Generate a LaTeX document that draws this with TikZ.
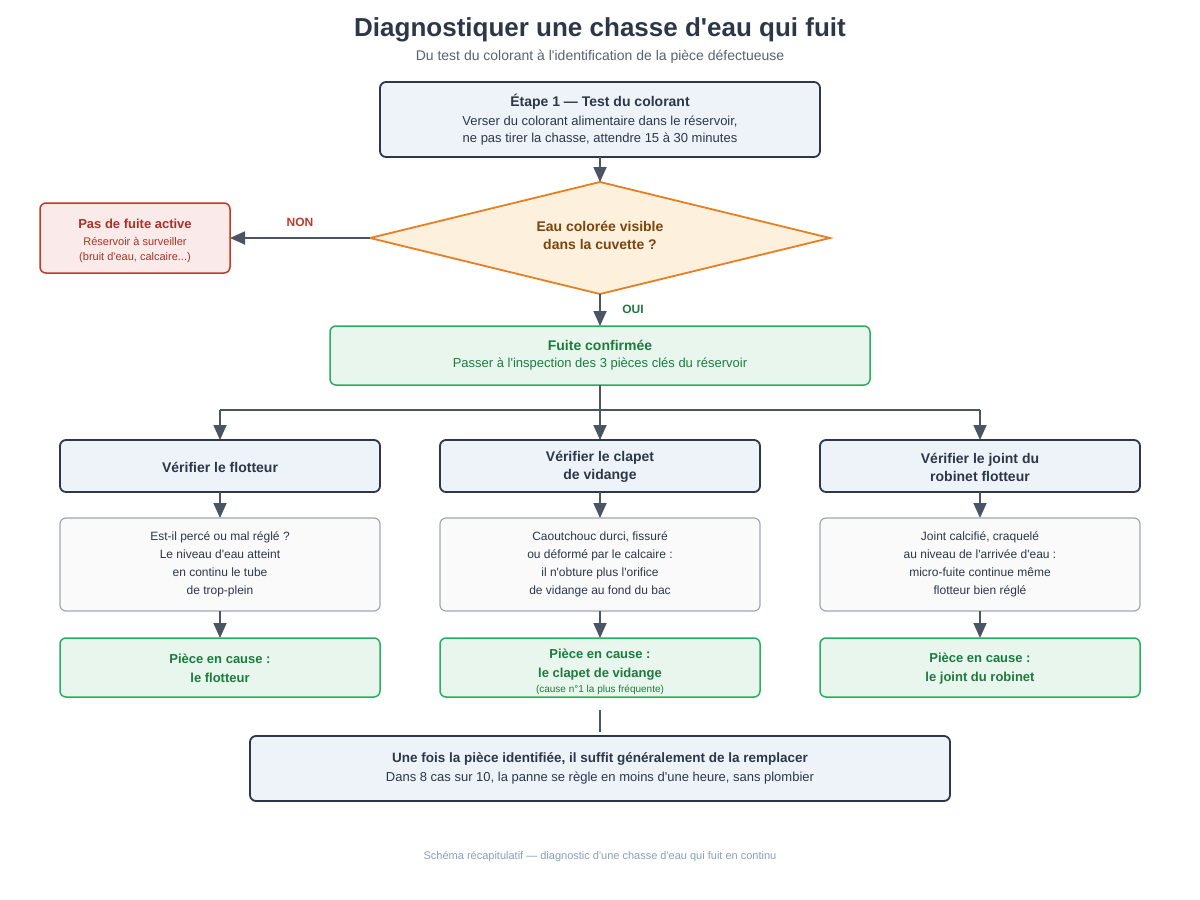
\documentclass[tikz,border=0pt]{standalone}
\usepackage{fontspec}
\setmainfont{Liberation Sans}[Ligatures=TeXOff]
\usetikzlibrary{arrows.meta,shapes.geometric}
\definecolor{dark}{HTML}{2D3748}
\definecolor{arr}{HTML}{4A5563}
\definecolor{bluef}{HTML}{EEF3FA}
\definecolor{orf}{HTML}{FDF0DC}
\definecolor{orb}{HTML}{E67E22}
\definecolor{brn}{HTML}{7A4510}
\definecolor{redf}{HTML}{FBEAEA}
\definecolor{redb}{HTML}{C0392B}
\definecolor{redt}{HTML}{A93226}
\definecolor{grf}{HTML}{E8F6EE}
\definecolor{grb}{HTML}{27AE60}
\definecolor{grt}{HTML}{1E7A3E}
\definecolor{grayf}{HTML}{FAFAFA}
\definecolor{grayb}{HTML}{A0A8B3}
\definecolor{txt}{HTML}{2D3748}
\definecolor{sub}{HTML}{5A6270}
\definecolor{foot}{HTML}{8AA0B8}
\tikzset{
 box/.style={draw=dark,fill=bluef,line width=1.8pt,rounded corners=6pt},
 redbox/.style={draw=redb,fill=redf,line width=1.5pt,rounded corners=6pt},
 grbox/.style={draw=grb,fill=grf,line width=1.5pt,rounded corners=6pt},
 graybox/.style={draw=grayb,fill=grayf,line width=1.2pt,rounded corners=6pt},
 ar/.style={draw=arr,line width=1.8pt,-{Triangle[length=15pt,width=13pt]}},
 ln/.style={draw=arr,line width=1.8pt},
 t/.style={inner sep=0pt,anchor=center,align=center}
}
\begin{document}
\begin{tikzpicture}[x=1pt,y=-1pt]
\useasboundingbox[fill=white] (0,0) rectangle (1200,900);
\node[t,font=\fontsize{26}{30}\bfseries\selectfont,text=txt] (title) at (600,30) {Diagnostiquer une chasse d'eau qui fuit};
\node[t,font=\fontsize{14}{16}\selectfont,text=sub] (subt) at (600,57) {Du test du colorant à l'identification de la pièce défectueuse};
% step 1
\draw[box] (380,82) rectangle (820,157);
\coordinate (b1b) at (600,157);
\node[t,font=\fontsize{14}{16}\bfseries\selectfont,text=txt] at (600,102) {Étape 1 — Test du colorant};
\node[t,font=\fontsize{13}{17}\selectfont,text=txt] at (600,130.5) {Verser du colorant alimentaire dans le réservoir,\\ne pas tirer la chasse, attendre 15 à 30 minutes};
% diamond
\draw[draw=orb,fill=orf,line width=1.8pt] (600,182) -- (830,238) -- (600,294) -- (370,238) -- cycle;
\coordinate (dt) at (600,182); \coordinate (dl) at (370,238); \coordinate (db) at (600,294);
\node[t,font=\fontsize{14}{18}\bfseries\selectfont,text=brn] at (600,235) {Eau colorée visible\\dans la cuvette ?};
\draw[ar] (b1b) -- (dt);
% NON
\draw[redbox] (40,203) rectangle (230,273);
\coordinate (rr) at (230,238);
\node[t,font=\fontsize{13}{15}\bfseries\selectfont,text=redt] at (135,224) {Pas de fuite active};
\node[t,font=\fontsize{11}{15}\selectfont,text=redt] at (135,250.5) {Réservoir à surveiller\\(bruit d'eau, calcaire...)};
\draw[ar] (dl) -- (rr);
\node[t,font=\fontsize{12}{14}\bfseries\selectfont,text=redb] at (300,222) {NON};
% OUI
\draw[grbox] (330,326) rectangle (870,385);
\coordinate (gt) at (600,326); \coordinate (gb) at (600,385);
\node[t,font=\fontsize{14}{16}\bfseries\selectfont,text=grt] at (600,345) {Fuite confirmée};
\node[t,font=\fontsize{13}{15}\selectfont,text=grt] at (600,364) {Passer à l'inspection des 3 pièces clés du réservoir};
\draw[ar] (db) -- (gt);
\node[t,font=\fontsize{12}{14}\bfseries\selectfont,text=grt] at (633,309) {OUI};
% split
\coordinate (sp) at (600,410);
\draw[ln] (gb) -- (sp);
\draw[ln] (220,410) -- (980,410);
\foreach \x/\a/\b/\c in {220/{Vérifier le flotteur}/{Est-il percé ou mal réglé ?\\Le niveau d'eau atteint\\en continu le tube\\de trop-plein}/{Pièce en cause :\\le flotteur},
 600/{Vérifier le clapet\\de vidange}/{Caoutchouc durci, fissuré\\ou déformé par le calcaire :\\il n'obture plus l'orifice\\de vidange au fond du bac}/{},
 980/{Vérifier le joint du\\robinet flotteur}/{Joint calcifié, craquelé\\au niveau de l'arrivée d'eau :\\micro-fuite continue même\\flotteur bien réglé}/{Pièce en cause :\\le joint du robinet}}{
 \draw[ar] (\x,410) -- (\x,440);
 \draw[box] (\x-160,440) rectangle (\x+160,492);
 \node[t,font=\fontsize{14}{18}\bfseries\selectfont,text=txt] at (\x,467) {\a};
 \draw[ar] (\x,492) -- (\x,518);
 \draw[graybox] (\x-160,518) rectangle (\x+160,611);
 \node[t,font=\fontsize{12}{18}\selectfont,text=txt] at (\x,564) {\b};
 \draw[ar] (\x,611) -- (\x,638);
 \draw[grbox] (\x-160,638) rectangle (\x+160,697);
 \node[t,font=\fontsize{13}{19}\bfseries\selectfont,text=grt] at (\x,668.5) {\c};
}
\node[t,font=\fontsize{13}{19}\bfseries\selectfont,text=grt] at (600,664.5) {Pièce en cause :\\le clapet de vidange};
\node[t,font=\fontsize{10}{12}\selectfont,text=grt] at (600,689.5) {(cause n°1 la plus fréquente)};
% bottom
\coordinate (l1) at (600,710); \coordinate (l2) at (600,732);
\draw[ln] (l1) -- (l2);
\draw[box] (250,736) rectangle (950,801);
\node[t,font=\fontsize{13.5}{16}\bfseries\selectfont,text=txt] at (600,759) {Une fois la pièce identifiée, il suffit généralement de la remplacer};
\node[t,font=\fontsize{13}{15}\selectfont,text=txt] at (600,778) {Dans 8 cas sur 10, la panne se règle en moins d'une heure, sans plombier};
\node[t,font=\fontsize{11}{13}\selectfont,text=foot] at (600,857) {Schéma récapitulatif — diagnostic d'une chasse d'eau qui fuit en continu};
\end{tikzpicture}
\end{document}
